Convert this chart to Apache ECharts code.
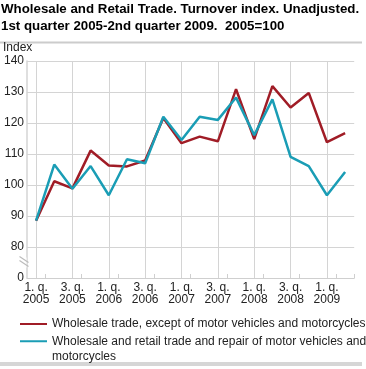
<!DOCTYPE html>
<html><head><meta charset="utf-8">
<script src="https://cdn.jsdelivr.net/npm/echarts@6/dist/echarts.min.js"></script>
<style>html,body{margin:0;padding:0;background:#fff}#c{width:366px;height:369px}</style>
</head><body><div id="c"></div>
<script>
const quarters = [
  '1. q.\n2005','2. q.\n2005','3. q.\n2005','4. q.\n2005',
  '1. q.\n2006','2. q.\n2006','3. q.\n2006','4. q.\n2006',
  '1. q.\n2007','2. q.\n2007','3. q.\n2007','4. q.\n2007',
  '1. q.\n2008','2. q.\n2008','3. q.\n2008','4. q.\n2008',
  '1. q.\n2009','2. q.\n2009'
];
const wholesale = [88.5,101.2,98.9,111.1,106.3,106.0,107.9,121.6,113.5,115.6,114.1,130.9,114.8,131.9,125.0,129.7,113.8,116.7];
const motorVehicles = [88.5,106.6,98.8,106.1,96.7,108.3,107.0,122.0,114.5,122.0,121.0,128.2,116.1,127.6,109.1,106.1,96.7,104.2];
const seriesNames = ['Wholesale trade, except of motor vehicles and motorcycles',
                     'Wholesale and retail trade and repair of motor vehicles and motorcycles'];
const legendTexts = ['Wholesale trade, except of motor vehicles and motorcycles',
                     'Wholesale and retail trade and repair of motor vehicles and\nmotorcycles'];
const yMin = 70, yMax = 140, yStep = 10;
const yTickLabels = {70:'0',80:'80',90:'90',100:'100',110:'110',120:'120',130:'130',140:'140'};
const titleLines = ['Wholesale and Retail Trade. Turnover index. Unadjusted.',
                    '1st quarter 2005-2nd quarter 2009.  2005=100'];
const colors = ['#a01c26','#1a9db5'];

const FONT = "'Liberation Sans', Arial, sans-serif";
const chart = echarts.init(document.getElementById('c'), null, {renderer:'canvas'});
const gridLines = quarters.map((q,i)=>i).filter(i=>i%2===0).map(i=>({xAxis:i}));

const option = {
  animation:false,
  backgroundColor:'#fff',
  title:{
    text:titleLines.join('\n'), left:1, top:1, padding:0,
    textStyle:{fontFamily:FONT,fontSize:13.3,fontWeight:'bold',color:'#000',lineHeight:17}
  },
  legend:[{
    data:[{name:seriesNames[0]}], orient:'vertical', left:20, top:316.5, padding:0,
    itemWidth:27, itemHeight:2, icon:'rect', selectedMode:false,
    formatter:()=>legendTexts[0],
    textStyle:{fontFamily:FONT,fontSize:12,color:'#222',lineHeight:15}
  },{
    data:[{name:seriesNames[1]}], orient:'vertical', left:20, top:318, padding:0,
    itemWidth:27, itemHeight:2, icon:'rect', selectedMode:false,
    formatter:()=>' \n' + legendTexts[1],
    textStyle:{fontFamily:FONT,fontSize:12,color:'#222',lineHeight:15.5}
  }],
  grid:{left:24.5,right:11.8,top:61,bottom:91,containLabel:false},
  xAxis:{
    type:'category', data:quarters, boundaryGap:true,
    axisLine:{show:true,lineStyle:{color:'#cfcfcf',width:1}},
    axisTick:{show:true,inside:true,length:4,interval:(i)=>i%2===1,lineStyle:{color:'#cfcfcf'}},
    axisLabel:{interval:1,margin:3,fontFamily:FONT,fontSize:12,color:'#222',lineHeight:12.5},
    splitLine:{show:false}
  },
  yAxis:{
    type:'value', min:yMin, max:yMax, interval:yStep,
    name:'Index', nameLocation:'end', nameGap:7,
    nameTextStyle:{fontFamily:FONT,fontSize:12,color:'#222',align:'left',padding:[0,0,0,-24]},
    axisLine:{show:true,lineStyle:{color:'#d4d4d4',width:1.5}},
    axisTick:{show:false},
    axisLabel:{margin:3,fontFamily:FONT,fontSize:12,color:'#222',formatter:(v)=>yTickLabels[v]},
    splitLine:{show:true,lineStyle:{color:'#d4d4d4',width:1}}
  },
  series:[{
    name:seriesNames[0], type:'line', data:wholesale, symbol:'none',
    lineStyle:{width:2.5,color:colors[0]}, itemStyle:{color:colors[0]},
    markLine:{silent:true,symbol:['none','none'],label:{show:false},
      lineStyle:{color:'#d4d4d4',width:1,type:'solid'},data:gridLines, z:0},
    z:3
  },{
    name:seriesNames[1], type:'line', data:motorVehicles, symbol:'none',
    lineStyle:{width:2.5,color:colors[1]}, itemStyle:{color:colors[1]}, z:4
  }]
};
chart.setOption(option);

const ax = chart.convertToPixel({gridIndex:0}, [0, 75]);
const xAxisPx = 24.5;
const yb = ax[1];
chart.setOption({
  graphic:[
    {type:'rect',shape:{x:0,y:41.5,width:362,height:2},style:{fill:'#cccccc'},silent:true},
    {type:'rect',shape:{x:0,y:362,width:362,height:4},style:{fill:'#d6d6d6'},silent:true},
    {type:'rect',shape:{x:xAxisPx-2,y:yb-5,width:4,height:10},style:{fill:'#fff'},silent:true,z:10},
    {type:'line',shape:{x1:xAxisPx-5,y1:yb-6,x2:xAxisPx+4,y2:yb},style:{stroke:'#bbbbbb',lineWidth:1.2},silent:true,z:11},
    {type:'line',shape:{x1:xAxisPx-5,y1:yb-2,x2:xAxisPx+4,y2:yb+4},style:{stroke:'#bbbbbb',lineWidth:1.2},silent:true,z:11}
  ]
});
</script>
</body></html>
